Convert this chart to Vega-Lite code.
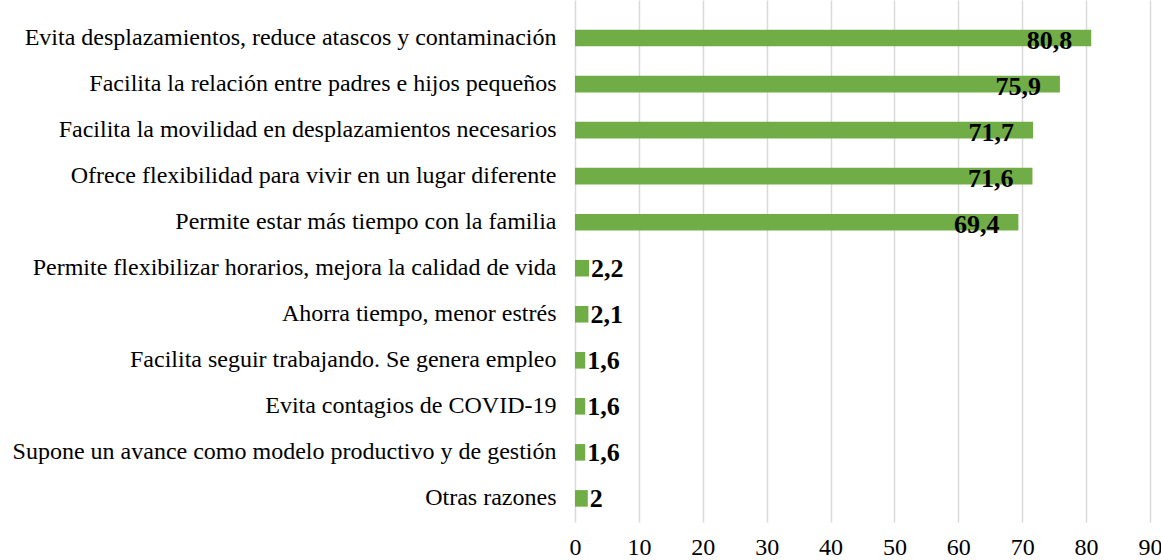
{
  "$schema": "https://vega.github.io/schema/vega-lite/v6.json",
  "width": 575,
  "height": 522,
  "autosize": "none",
  "padding": {"left": 575, "top": 0, "right": 11, "bottom": 38},
  "background": "white",
  "config": {"view": {"stroke": null}, "font": "Liberation Serif"},
  "data": {"values": [
    {"razon": "Evita desplazamientos, reduce atascos y contaminación", "valor": 80.8, "etiqueta": "80,8"},
    {"razon": "Facilita la relación entre padres e hijos pequeños", "valor": 75.9, "etiqueta": "75,9"},
    {"razon": "Facilita la movilidad en desplazamientos necesarios", "valor": 71.7, "etiqueta": "71,7"},
    {"razon": "Ofrece flexibilidad para vivir en un lugar diferente", "valor": 71.6, "etiqueta": "71,6"},
    {"razon": "Permite estar más tiempo con la familia", "valor": 69.4, "etiqueta": "69,4"},
    {"razon": "Permite flexibilizar horarios, mejora la calidad de vida", "valor": 2.2, "etiqueta": "2,2"},
    {"razon": "Ahorra tiempo, menor estrés", "valor": 2.1, "etiqueta": "2,1"},
    {"razon": "Facilita seguir trabajando. Se genera empleo", "valor": 1.6, "etiqueta": "1,6"},
    {"razon": "Evita contagios de COVID-19", "valor": 1.6, "etiqueta": "1,6"},
    {"razon": "Supone un avance como modelo productivo y de gestión", "valor": 1.6, "etiqueta": "1,6"},
    {"razon": "Otras razones\u00a0", "valor": 2.0, "etiqueta": "2"}
  ]},
  "encoding": {
    "y": {
      "field": "razon", "type": "nominal", "sort": null,
      "scale": {"paddingInner": 0.64, "paddingOuter": 0.49, "align": 0.66},
      "axis": {"title": null, "domain": false, "ticks": false, "labelFontSize": 24, "labelColor": "black", "labelPadding": 19, "labelLimit": 0, "labelFont": "Liberation Serif"}
    },
    "x": {
      "field": "valor", "type": "quantitative",
      "scale": {"domain": [0, 90], "nice": false},
      "axis": {"title": null, "values": [0,10,20,30,40,50,60,70,80,90], "domain": false, "ticks": false, "labelFontSize": 24, "labelColor": "black", "labelPadding": 13, "gridColor": "#d9d9d9", "gridWidth": 1.5, "labelFont": "Liberation Serif", "labelFlush": false}
    }
  },
  "layer": [
    {"mark": {"type": "bar", "color": "#70AD47"}},
    {
      "transform": [{"filter": "datum.valor > 10"}],
      "mark": {"type": "text", "align": "right", "dx": -19, "dy": 3, "fontSize": 26, "fontWeight": "bold", "color": "black", "font": "Liberation Serif"},
      "encoding": {"text": {"field": "etiqueta"}}
    },
    {
      "transform": [{"filter": "datum.valor <= 10"}],
      "mark": {"type": "text", "align": "left", "dx": 2, "dy": 1, "fontSize": 26, "fontWeight": "bold", "color": "black", "font": "Liberation Serif"},
      "encoding": {"text": {"field": "etiqueta"}}
    }
  ]
}
